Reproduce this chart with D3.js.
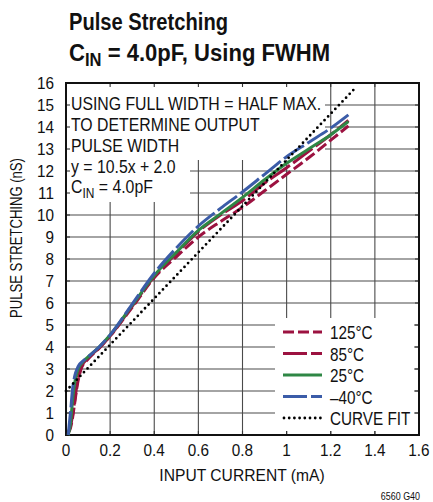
<!DOCTYPE html>
<html>
<head>
<meta charset="utf-8">
<script src="https://cdn.jsdelivr.net/npm/d3@7"></script>
<style>
  body { margin: 0; background: #fff; }
  svg text { font-family: "Liberation Sans", Arial, sans-serif; fill: #111; }
</style>
</head>
<body>
<svg id="chart" width="433" height="502"></svg>
<script>
// data
var currentMA = [0.01, 0.02, 0.03, 0.04, 0.05, 0.06, 0.07, 0.1, 0.15, 0.2, 0.3, 0.4, 0.5, 0.6, 0.7, 0.8, 0.9, 1.0, 1.1, 1.2, 1.28];
var t125 = [0.1, 0.3, 0.8, 1.5, 2.2, 2.7, 3.05, 3.45, 3.95, 4.5, 5.8, 7.15, 8.1, 9.0, 9.7, 10.35, 11.1, 11.85, 12.6, 13.4, 14.05];
var t85  = [0.1, 0.4, 0.9, 1.6, 2.3, 2.8, 3.1, 3.5, 3.95, 4.5, 5.85, 7.2, 8.25, 9.25, 10.0, 10.65, 11.45, 12.15, 12.9, 13.65, 14.3];
var t25  = [0, 0.5, 1.6, 2.4, 2.85, 3.1, 3.25, 3.55, 4.0, 4.55, 5.9, 7.25, 8.3, 9.3, 10.05, 10.8, 11.6, 12.35, 13.0, 13.65, 14.25];
var tm40 = [0, 1.0, 2.1, 2.7, 3.0, 3.2, 3.3, 3.55, 4.0, 4.55, 5.95, 7.35, 8.5, 9.5, 10.3, 11.05, 11.85, 12.65, 13.3, 13.95, 14.55];
// curve fit y = 10.5x + 2.0, end points
var fitX = [0, 1.31];
var fitY = [2.0, 15.76];

var xTicks = [0, 0.2, 0.4, 0.6, 0.8, 1, 1.2, 1.4, 1.6];
var yTicks = d3.range(0, 17);
var notes = ['USING FULL WIDTH = HALF MAX.', 'TO DETERMINE OUTPUT', 'PULSE WIDTH', 'y = 10.5x + 2.0'];

var series = [
  {name: '125°C', values: t125, color: '#9c1240', dash: '11,4'},
  {name: '85°C', values: t85, color: '#9c1240', dash: '24,4'},
  {name: '25°C', values: t25, color: '#2e8745', dash: null},
  {name: '\u201340°C', values: tm40, color: '#3b5ca8', dash: '24,4'}
];

// plot box
var box = {left: 66, right: 419, top: 83, bottom: 435};

var x = d3.scaleLinear().domain([0, 1.6]).range([box.left, box.right]);
var y = d3.scaleLinear().domain([0, 16]).range([box.bottom, box.top]);

var svg = d3.select('#chart');

// condensed text: plain sans squeezed horizontally
function label(px, py, size, squeeze, anchor, rotate) {
  return svg.append('text')
    .attr('transform', 'translate(' + px + ',' + py + ')' + (rotate ? ' rotate(' + rotate + ')' : '') + ' scale(' + squeeze + ',1)')
    .attr('text-anchor', anchor || 'start')
    .style('font-size', size + 'px');
}

// title
label(69, 30, 24, 0.84).style('font-weight', 'bold').text('Pulse Stretching');
var title2 = label(69, 61, 24, 0.92).style('font-weight', 'bold');
title2.append('tspan').text('C');
title2.append('tspan').attr('dy', 5).style('font-size', '18px').text('IN');
title2.append('tspan').attr('dy', -5).text(' = 4.0pF, Using FWHM');

// grid
var grid = svg.append('g').style('stroke', '#4a4a4a').style('stroke-width', 1.1);
grid.selectAll('line.v')
  .data(xTicks.slice(1, -1))
  .enter()
  .append('line')
    .attr('x1', function(d) { return x(d); })
    .attr('x2', function(d) { return x(d); })
    .attr('y1', box.top)
    .attr('y2', box.bottom);
grid.selectAll('line.h')
  .data(yTicks.slice(1, -1))
  .enter()
  .append('line')
    .attr('y1', function(d) { return y(d); })
    .attr('y2', function(d) { return y(d); })
    .attr('x1', box.left)
    .attr('x2', box.right);

// white boxes behind the note and legend
svg.append('rect').attr('x', box.left).attr('y', box.top).attr('width', 325 - box.left).attr('height', 160 - box.top).style('fill', '#fff');
svg.append('rect').attr('x', box.left).attr('y', 159).attr('width', 190 - box.left).attr('height', 202 - 159).style('fill', '#fff');
svg.append('rect').attr('x', 275).attr('y', 318).attr('width', 414 - 275).attr('height', 431 - 318).style('fill', '#fff');

// inner ticks on all four sides
var ticks = svg.append('g').style('stroke', '#333').style('stroke-width', 1.1);
yTicks.slice(1, -1).forEach(function(d) {
  ticks.append('line').attr('x1', box.left).attr('x2', box.left + 4).attr('y1', y(d)).attr('y2', y(d));
  ticks.append('line').attr('x1', box.right - 4).attr('x2', box.right).attr('y1', y(d)).attr('y2', y(d));
});
xTicks.slice(1, -1).forEach(function(d) {
  ticks.append('line').attr('y1', box.bottom).attr('y2', box.bottom - 4).attr('x1', x(d)).attr('x2', x(d));
  ticks.append('line').attr('y1', box.top).attr('y2', box.top + 4).attr('x1', x(d)).attr('x2', x(d));
});

// frame
svg.append('rect')
  .attr('x', box.left).attr('y', box.top)
  .attr('width', box.right - box.left).attr('height', box.bottom - box.top)
  .style('fill', 'none')
  .style('stroke', '#111')
  .style('stroke-width', 2);

// tick labels
yTicks.forEach(function(d) {
  label(54, y(d) + 6, 17, 0.9, 'end').text(d);
});
xTicks.forEach(function(d) {
  label(x(d), 456, 17, 0.9, 'middle').text(d);
});

// axis titles
label(242, 481, 17, 0.92, 'middle').text('INPUT CURRENT (mA)');
label(22, 238, 17, 0.77, 'middle', -90).text('PULSE STRETCHING (nS)');

// curves
var line = d3.line()
  .x(function(d) { return x(d[0]); })
  .y(function(d) { return y(d[1]); })
  .curve(d3.curveMonotoneX);

series.forEach(function(s) {
  svg.append('path')
    .datum(currentMA.map(function(c, i) { return [c, s.values[i]]; }))
    .attr('d', line)
    .style('fill', 'none')
    .style('stroke', s.color)
    .style('stroke-width', 3)
    .style('stroke-dasharray', s.dash);
});

svg.append('path')
  .datum(fitX.map(function(c, i) { return [c, fitY[i]]; }))
  .attr('d', d3.line().x(function(d) { return x(d[0]); }).y(function(d) { return y(d[1]); }))
  .style('fill', 'none')
  .style('stroke', '#000')
  .style('stroke-width', 2.8)
  .style('stroke-linecap', 'round')
  .style('stroke-dasharray', '0,5.2');

// note
notes.forEach(function(t, i) {
  label(71, 110 + i * 21, 18.5, 0.855).text(t);
});
var cin = label(71, 193, 18.5, 0.855);
cin.append('tspan').text('C');
cin.append('tspan').attr('dy', 5).style('font-size', '14px').text('IN');
cin.append('tspan').attr('dy', -5).text(' = 4.0pF');

// legend
var legendRows = series.concat([{name: 'CURVE FIT', color: '#000', dotted: true}]);
var legend = svg.append('g');
legendRows.forEach(function(s, i) {
  var ly = 332 + i * 21.5;
  legend.append('line')
    .attr('x1', s.dotted ? 284 : 283)
    .attr('x2', 322)
    .attr('y1', ly)
    .attr('y2', ly)
    .style('stroke', s.color)
    .style('stroke-width', s.dotted ? 2.8 : 3)
    .style('stroke-linecap', s.dotted ? 'round' : 'butt')
    .style('stroke-dasharray', s.dotted ? '0,5.2' : s.dash);
  label(330, ly + 7, 18, 0.85).text(s.name);
});

// figure id
label(420, 500, 10.5, 0.85, 'end').text('6560 G40');
</script>
</body>
</html>
